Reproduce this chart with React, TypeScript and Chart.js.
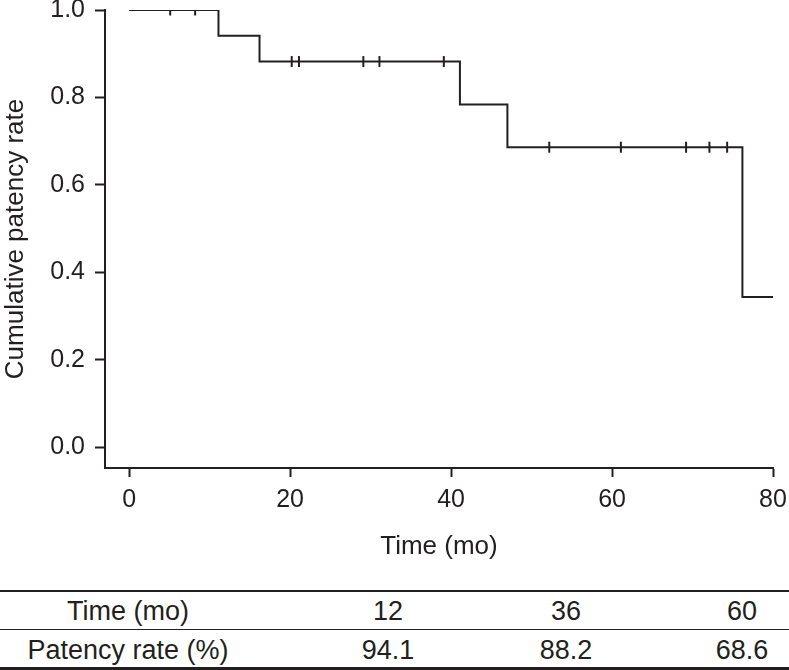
import React, { useEffect, useRef } from "react";
import { Chart, registerables } from "chart.js";

Chart.register(...registerables);

// Kaplan–Meier step function (time in months, cumulative patency)
const stepTimes = [0, 11.1, 16.2, 41.1, 47.0, 76.2, 80];
const stepSurvival = [1.0, 0.941, 0.882, 0.784, 0.686, 0.343, 0.343];
// Censored observations (months)
const censorTimes = [5.1, 8.2, 20.2, 21.1, 29.1, 31.1, 39.1, 52.2, 61.1, 69.2, 72.1, 74.3];
// Axis ticks
const xTickValues = [0, 20, 40, 60, 80];
const yTickValues = [0, 0.2, 0.4, 0.6, 0.8, 1.0];
// Table
const tableRowLabels = ["Time (mo)", "Patency rate (%)"];
const tableTimes = ["12", "36", "60"];
const tableRates = ["94.1", "88.2", "68.6"];

const INK = "#231f20";
const FONT = '"Liberation Sans", Arial, Helvetica, sans-serif';

function survivalAt(t: number): number {
  let v = stepSurvival[0];
  for (let i = 0; i < stepTimes.length; i++) {
    if (stepTimes[i] <= t) v = stepSurvival[i];
  }
  return v;
}

export default function App() {
  const canvasRef = useRef<HTMLCanvasElement | null>(null);

  useEffect(() => {
    const canvas = canvasRef.current;
    if (!canvas) return;
    const chart = new Chart(canvas, {
      type: "line",
      data: {
        datasets: [
          {
            label: "Patency",
            data: stepTimes.map((t, i) => ({ x: t, y: stepSurvival[i] })),
            stepped: true,
            borderColor: INK,
            borderWidth: 2,
            pointRadius: 0,
            fill: false,
          },
          {
            label: "Censored",
            data: censorTimes.map((t) => ({ x: t, y: survivalAt(t) })),
            showLine: false,
            pointStyle: "line",
            rotation: 90,
            pointRadius: 5.5,
            borderColor: INK,
            backgroundColor: INK,
            pointBorderWidth: 2,
            borderWidth: 2,
          },
        ],
      },
      options: {
        animation: false,
        responsive: false,
        events: [],
        layout: { padding: 0 },
        plugins: {
          legend: { display: false },
          tooltip: { enabled: false },
        },
        scales: {
          x: {
            type: "linear",
            min: -3,
            max: 80,
            afterBuildTicks: (scale: any) => {
              scale.ticks = xTickValues.map((v) => ({ value: v }));
            },
            afterFit: (scale: any) => {
              scale.height = 112;
              scale.paddingLeft = 0;
              scale.paddingRight = 16;
            },
            border: { display: true, color: INK, width: 2 },
            grid: {
              display: true,
              drawOnChartArea: false,
              drawTicks: true,
              tickLength: 9,
              tickWidth: 2,
              tickColor: INK,
            },
            ticks: {
              color: INK,
              padding: 8,
              font: { family: FONT, size: 25 },
              callback: (v: any) => String(v),
              maxRotation: 0,
            },
            title: {
              display: true,
              text: "Time (mo)",
              color: INK,
              font: { family: FONT, size: 26 },
              padding: { top: 0, bottom: 18 },
            },
          },
          y: {
            type: "linear",
            min: -0.048,
            max: 1.0,
            afterBuildTicks: (scale: any) => {
              scale.ticks = yTickValues.map((v) => ({ value: v }));
            },
            afterFit: (scale: any) => {
              scale.width = 105;
              scale.paddingTop = 10;
              scale.paddingBottom = 0;
            },
            border: { display: true, color: INK, width: 2 },
            grid: {
              display: true,
              drawOnChartArea: false,
              drawTicks: true,
              tickLength: 10,
              tickWidth: 2,
              tickColor: INK,
            },
            ticks: {
              color: INK,
              padding: 10,
              font: { family: FONT, size: 25, lineHeight: 0.8 },
              callback: (v: any) => Number(v).toFixed(1),
            },
            title: {
              display: true,
              text: "Cumulative patency rate",
              color: INK,
              font: { family: FONT, size: 26 },
              padding: { top: 0, bottom: 0 },
            },
          },
        },
      } as any,
    });
    return () => chart.destroy();
  }, []);

  const colCenters = [388, 566, 742];
  const textStyle = (cx: number, cy: number): React.CSSProperties => ({
    position: "absolute",
    left: cx,
    top: cy,
    transform: "translate(-50%, -50%)",
    whiteSpace: "nowrap",
    fontFamily: FONT,
    fontSize: 27,
    color: INK,
    lineHeight: 1,
  });
  const lineStyle = (y: number, h: number): React.CSSProperties => ({
    position: "absolute",
    left: 0,
    top: y - h / 2,
    width: 789,
    height: h,
    background: INK,
  });

  return (
    <div
      style={{
        position: "absolute",
        left: 0,
        top: 0,
        width: 789,
        height: 670,
        background: "#fff",
        overflow: "hidden",
      }}
    >
      <canvas
        ref={canvasRef}
        width={789}
        height={580}
        style={{ position: "absolute", left: 0, top: 0, width: 789, height: 580 }}
      />
      <div style={lineStyle(591, 2)} />
      <div style={lineStyle(629.5, 1.5)} />
      <div style={lineStyle(668, 3)} />
      <div style={textStyle(128, 611)}>{tableRowLabels[0]}</div>
      <div style={textStyle(128, 650)}>{tableRowLabels[1]}</div>
      {tableTimes.map((t, i) => (
        <div key={"t" + i} style={textStyle(colCenters[i], 611)}>
          {t}
        </div>
      ))}
      {tableRates.map((r, i) => (
        <div key={"r" + i} style={textStyle(colCenters[i], 650)}>
          {r}
        </div>
      ))}
    </div>
  );
}
